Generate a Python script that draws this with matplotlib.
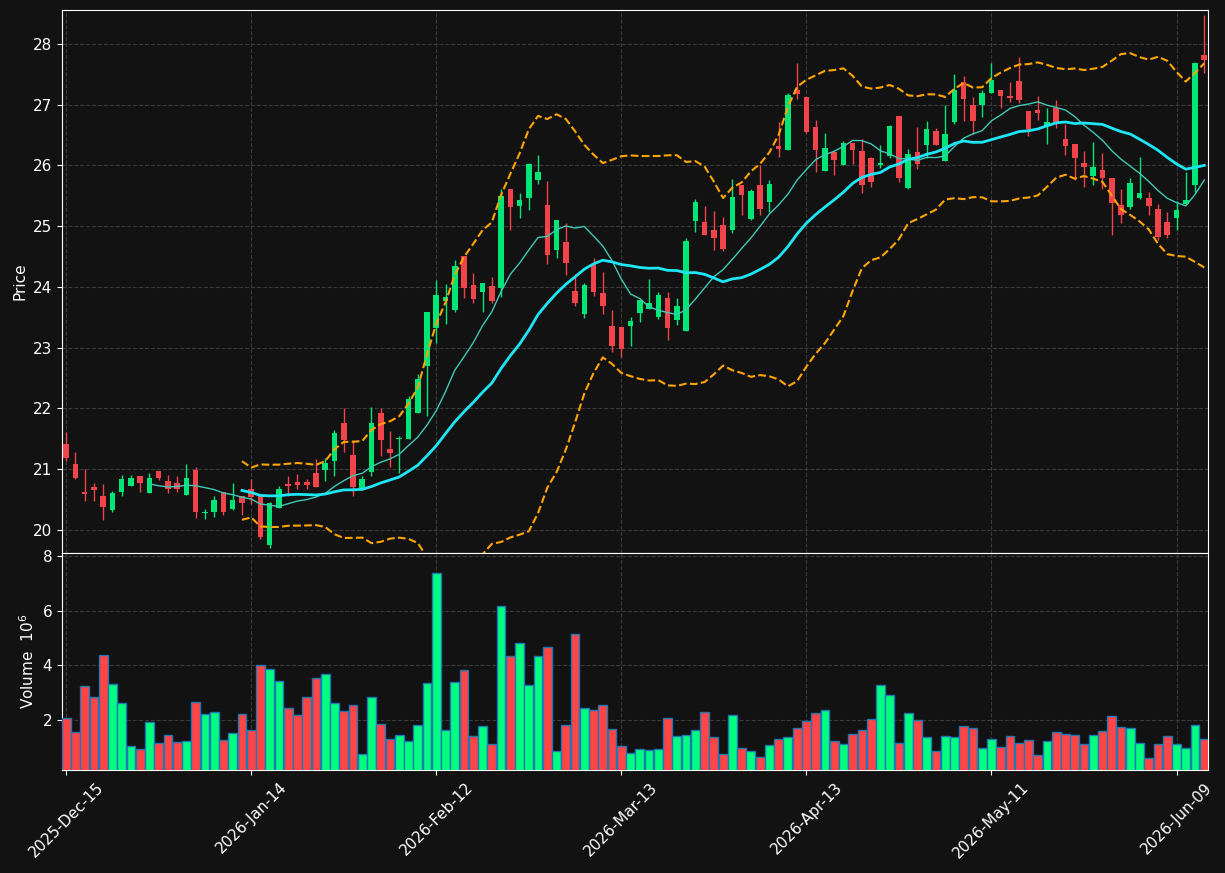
import matplotlib
matplotlib.use('Agg')
import matplotlib.pyplot as plt
import numpy as np
import pandas as pd

# daily OHLC (price) and volume (millions)
opens = [21.42, 21.09, 20.63, 20.71, 20.56, 20.32, 20.63, 20.73, 20.89, 20.60,
         20.97, 20.81, 20.78, 20.57, 20.99, 20.28, 20.29, 20.62, 20.35, 20.55,
         20.68, 20.58, 19.75, 20.36, 20.76, 20.79, 20.79, 20.93, 20.99, 21.13,
         21.76, 21.24, 20.69, 20.95, 21.92, 21.33, 21.49, 21.50, 21.92, 22.69,
         23.33, 23.76, 23.62, 24.51, 24.03, 23.91, 24.02, 23.99, 25.61, 25.34,
         25.47, 25.76, 25.35, 24.61, 24.74, 23.93, 23.56, 24.38, 23.90, 23.36,
         23.34, 23.36, 23.57, 23.64, 23.51, 23.82, 23.45, 23.27, 25.09, 25.07,
         24.93, 25.02, 24.94, 25.68, 25.12, 25.68, 25.39, 26.32, 26.26, 27.25,
         27.12, 26.63, 25.91, 26.22, 26.00, 26.37, 26.24, 26.12, 26.00, 26.16,
         26.81, 25.63, 26.22, 26.34, 26.56, 26.08, 26.72, 27.38, 26.99, 27.00,
         27.19, 27.24, 27.15, 27.39, 26.89, 26.92, 26.65, 26.95, 26.44, 26.36,
         26.04, 25.83, 25.93, 25.80, 25.35, 25.32, 25.47, 25.46, 25.28, 25.07,
         25.14, 25.36, 25.67, 27.82]
highs = [21.61, 21.28, 21.00, 20.77, 20.75, 20.64, 20.90, 20.90, 20.89, 20.93,
         20.97, 20.90, 20.89, 21.09, 21.03, 20.35, 20.56, 20.62, 20.77, 20.55,
         20.83, 20.58, 20.46, 20.72, 20.88, 20.92, 20.83, 21.16, 21.18, 21.65,
         22.00, 21.48, 20.89, 22.02, 22.00, 21.62, 21.55, 22.20, 22.57, 23.58,
         24.12, 24.04, 24.44, 24.51, 24.23, 24.07, 24.16, 25.62, 25.61, 25.54,
         26.04, 26.17, 25.74, 25.11, 25.06, 24.22, 24.07, 24.47, 24.24, 23.62,
         23.34, 23.50, 23.79, 24.13, 23.92, 23.91, 23.81, 24.80, 25.44, 25.33,
         25.25, 25.15, 25.77, 25.68, 25.62, 26.00, 25.76, 26.71, 27.19, 27.69,
         27.12, 26.75, 26.53, 26.22, 26.40, 26.37, 26.44, 26.14, 26.33, 26.66,
         26.81, 26.27, 26.63, 26.73, 26.62, 27.00, 27.51, 27.48, 27.13, 27.24,
         27.69, 27.24, 27.37, 27.79, 26.90, 27.15, 26.95, 27.08, 26.69, 26.36,
         26.24, 26.38, 26.21, 25.80, 25.61, 25.80, 26.14, 25.56, 25.36, 25.24,
         25.41, 25.90, 27.71, 28.47]
lows = [21.14, 20.84, 20.48, 20.48, 20.16, 20.30, 20.55, 20.73, 20.63, 20.60,
        20.82, 20.60, 20.62, 20.57, 20.20, 20.18, 20.21, 20.24, 20.33, 20.25,
        20.43, 19.85, 19.70, 20.36, 20.55, 20.68, 20.67, 20.71, 20.80, 20.89,
        21.29, 20.55, 20.66, 20.88, 21.22, 21.04, 20.93, 21.49, 21.92, 21.87,
        23.07, 23.39, 23.58, 23.81, 23.74, 23.58, 23.73, 23.84, 24.93, 25.14,
        25.27, 25.69, 24.37, 24.47, 24.19, 23.68, 23.49, 23.85, 23.55, 22.93,
        22.85, 23.02, 23.43, 23.64, 23.48, 23.12, 23.38, 23.27, 24.91, 24.86,
        24.60, 24.59, 24.89, 25.19, 25.10, 25.19, 25.24, 26.14, 26.26, 27.10,
        26.53, 25.90, 25.91, 25.85, 26.00, 26.03, 25.54, 25.64, 25.95, 26.12,
        25.72, 25.62, 25.94, 26.12, 26.34, 26.08, 26.69, 26.73, 26.51, 26.79,
        27.19, 26.95, 27.05, 27.02, 26.49, 26.74, 26.36, 26.62, 26.18, 25.76,
        25.64, 25.67, 25.62, 24.86, 25.06, 25.28, 25.45, 25.18, 24.77, 24.81,
        24.94, 25.36, 25.57, 27.52]
closes = [21.19, 20.86, 20.59, 20.65, 20.37, 20.61, 20.83, 20.85, 20.78, 20.86,
          20.86, 20.67, 20.67, 20.85, 20.29, 20.30, 20.50, 20.29, 20.50, 20.45,
          20.54, 19.88, 20.45, 20.67, 20.73, 20.74, 20.74, 20.71, 21.10, 21.60,
          21.48, 20.70, 20.84, 21.76, 21.48, 21.27, 21.50, 22.16, 22.48, 23.58,
          23.86, 23.84, 24.35, 23.99, 23.80, 24.07, 23.76, 25.50, 25.32, 25.43,
          26.02, 25.90, 24.52, 25.11, 24.40, 23.73, 24.03, 23.91, 23.68, 23.02,
          22.98, 23.44, 23.79, 23.73, 23.86, 23.33, 23.69, 24.76, 25.40, 24.86,
          24.81, 24.63, 25.48, 25.51, 25.58, 25.28, 25.69, 26.27, 27.16, 27.18,
          26.55, 26.26, 26.28, 26.09, 26.37, 26.26, 25.67, 25.72, 26.04, 26.65,
          25.80, 26.19, 26.03, 26.60, 26.34, 26.51, 27.25, 27.09, 26.73, 27.20,
          27.41, 27.14, 27.11, 27.07, 26.60, 26.86, 26.72, 26.69, 26.32, 26.13,
          25.98, 25.97, 25.79, 25.38, 25.19, 25.71, 25.55, 25.34, 24.83, 24.85,
          25.27, 25.43, 27.68, 27.74]
volumes = [2.07, 1.56, 3.24, 2.84, 4.38, 3.32, 2.62, 1.05, 0.94, 1.93,
           1.16, 1.45, 1.20, 1.23, 2.66, 2.22, 2.29, 1.27, 1.52, 2.22,
           1.63, 4.01, 3.87, 3.43, 2.44, 2.18, 2.84, 3.54, 3.68, 2.62,
           2.33, 2.55, 0.76, 2.84, 1.85, 1.30, 1.45, 1.23, 1.82, 3.35,
           7.38, 1.63, 3.39, 3.83, 1.41, 1.78, 1.12, 6.17, 4.34, 4.82,
           3.28, 4.34, 4.67, 0.87, 1.82, 5.15, 2.44, 2.37, 2.55, 1.67,
           1.05, 0.79, 0.94, 0.90, 0.94, 2.07, 1.41, 1.45, 1.63, 2.29,
           1.38, 0.76, 2.18, 0.98, 0.87, 0.65, 1.09, 1.30, 1.38, 1.71,
           1.96, 2.26, 2.37, 1.23, 1.12, 1.49, 1.63, 2.04, 3.28, 2.91,
           1.16, 2.26, 2.00, 1.38, 0.87, 1.41, 1.38, 1.78, 1.71, 0.98,
           1.30, 1.01, 1.41, 1.16, 1.27, 0.72, 1.23, 1.56, 1.49, 1.45,
           1.12, 1.45, 1.60, 2.15, 1.74, 1.71, 1.16, 0.61, 1.12, 1.41,
           1.12, 0.98, 1.82, 1.30]
tick_labels = ['2025-Dec-15', '2026-Jan-14', '2026-Feb-12', '2026-Mar-13',
               '2026-Apr-13', '2026-May-11', '2026-Jun-09']

n = len(closes)
x = np.arange(n)
o = np.array(opens)
c = np.array(closes)
up = c >= o

close_s = pd.Series(closes)
ma10 = close_s.rolling(10).mean()
ma20 = close_s.rolling(20).mean()
sd20 = close_s.rolling(20).std()
upper = ma20 + 2 * sd20
lower = ma20 - 2 * sd20

bg = '#121212'
fig = plt.figure(figsize=(12.25, 8.73), dpi=100, facecolor=bg)
ax = fig.add_axes([0.0506, 0.3666, 0.9355, 0.622], facecolor=bg)
axv = fig.add_axes([0.0506, 0.118, 0.9355, 0.2486], facecolor=bg, sharex=ax)

candle_cols = np.where(up, '#00e676', '#f0434a')
vol_cols = np.where(up, '#00ff80', '#ff4545')

# candles
ax.vlines(x, lows, highs, colors=candle_cols, linewidth=1, zorder=3)
body_lo = np.minimum(o, c)
body_h = np.maximum(np.abs(c - o), 0.015)
ax.bar(x, body_h, bottom=body_lo, width=0.6, color=candle_cols, zorder=4)

# moving averages + bands
ax.plot(x, ma10, color='#3fc9b6', linewidth=1, zorder=5)
ax.plot(x, ma20, color='#1ee6f5', linewidth=2, zorder=5)
ax.plot(x, upper, color='#ffa500', linewidth=1.5, linestyle='--', zorder=5)
ax.plot(x, lower, color='#ffa500', linewidth=1.5, linestyle='--', zorder=5)

# volume
axv.bar(x, volumes, width=0.95, color=vol_cols, edgecolor='#1f77b4', linewidth=1, zorder=3)

ax.set_xlim(-0.45, n - 0.6)
ax.set_ylim(19.62, 28.56)
axv.set_ylim(0.18, 8.11)
ax.set_yticks(range(20, 29))
axv.set_yticks([2, 4, 6, 8])
axv.set_xticks(range(0, n, 20))
axv.set_xticklabels(tick_labels, rotation=45)
ax.tick_params(labelbottom=False)

for a in (ax, axv):
    a.grid(True, linestyle='--', color='#3a3a3a', linewidth=0.8)
    a.set_axisbelow(True)
    a.tick_params(colors='white', labelsize=11)
    for s in a.spines.values():
        s.set_color('white')

ax.set_ylabel('Price', color='white', fontsize=11)
axv.set_ylabel('Volume  $10^6$', color='white', fontsize=11)

fig.savefig('out.png', dpi=100, facecolor=bg)
